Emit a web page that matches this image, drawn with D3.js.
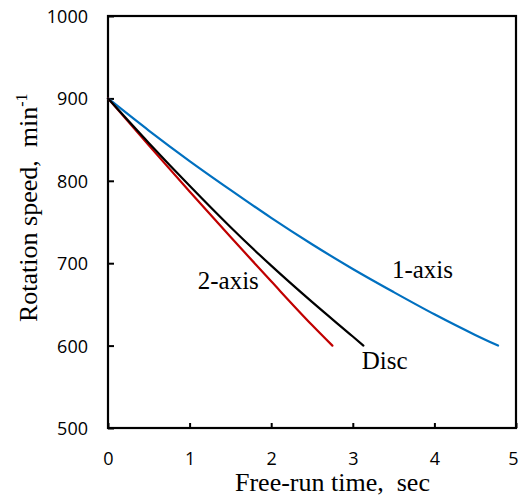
<!DOCTYPE html>
<html>
<head>
<meta charset="utf-8">
<script src="https://cdn.jsdelivr.net/npm/d3@7"></script>
<style>
    body { margin: 0; background: #fff; }
    .tick text { font-family: 'Open Sans', sans-serif; font-size: 18px; fill: #000; }
    .title, .note { font-family: 'Liberation Serif', 'Times New Roman', serif; fill: #000; white-space: pre; }
</style>
</head>
<body>
<div id="chart"></div>
<script>
// values
const xTicks = [0, 1, 2, 3, 4, 5];
const yTicks = [500, 600, 700, 800, 900, 1000];

const timeOneAxis = [0, 0.5, 1, 1.5, 2, 2.5, 3, 3.5, 4, 4.5, 4.78];
const speedOneAxis = [900, 861, 824, 789, 755, 723, 693, 665, 638, 613, 600];

const timeTwoAxis = [0, 0.5, 1, 1.5, 2, 2.5, 2.75];
const speedTwoAxis = [900, 843, 787, 732, 678, 625, 600];

const timeDisc = [0, 0.5, 1, 1.5, 2, 2.5, 3, 3.13];
const speedDisc = [900, 846, 794, 744, 697, 653, 611, 600];

const seriesNames = ['1-axis', '2-axis', 'Disc'];
const seriesColors = ['#0070c0', '#c00000', '#000000'];
// label anchors in data units (left edge, baseline)
const labelTimes = [3.48, 1.10, 3.11];
const labelSpeeds = [682, 669, 572];

const series = [
    { name: seriesNames[0], color: seriesColors[0], points: timeOneAxis.map((t, i) => [t, speedOneAxis[i]]) },
    { name: seriesNames[1], color: seriesColors[1], points: timeTwoAxis.map((t, i) => [t, speedTwoAxis[i]]) },
    { name: seriesNames[2], color: seriesColors[2], points: timeDisc.map((t, i) => [t, speedDisc[i]]) }
];

const margin = { top: 16, right: 3, bottom: 69, left: 108 };
const width = 519 - margin.left - margin.right;
const height = 497 - margin.top - margin.bottom;

const svg = d3.select('#chart').append('svg')
    .attr('width', 519)
    .attr('height', 497);

const g = svg.append('g')
    .attr('transform', `translate(${margin.left},${margin.top})`);

const x = d3.scaleLinear().domain([0, 5]).range([0, width]);
const y = d3.scaleLinear().domain([500, 1000]).range([height, 0]);

// axes with inward ticks
const xAxis = g.append('g')
    .attr('transform', `translate(0,${height})`)
    .call(d3.axisBottom(x).tickValues(xTicks).tickSize(-5).tickPadding(24).tickFormat(d3.format('d')));

const yAxis = g.append('g')
    .call(d3.axisLeft(y).tickValues(yTicks).tickSize(-6).tickPadding(20).tickFormat(d3.format('d')));

[xAxis, yAxis].forEach(a => {
    a.select('.domain').remove();
    a.selectAll('.tick line').attr('stroke', '#000').attr('stroke-width', 2);
});
yAxis.selectAll('.tick text').attr('dy', '0.36em');
// last x label sits against the right edge of the page
xAxis.selectAll('.tick text').filter(d => d === 5).attr('dx', -3);

// plot frame
g.append('rect')
    .attr('width', width)
    .attr('height', height)
    .attr('fill', 'none')
    .attr('stroke', '#000')
    .attr('stroke-width', 2.2);

const line = d3.line()
    .x(d => x(d[0]))
    .y(d => y(d[1]))
    .curve(d3.curveMonotoneX);

g.selectAll('.series')
    .data(series)
    .enter()
    .append('path')
    .attr('class', 'series')
    .attr('d', d => line(d.points))
    .attr('fill', 'none')
    .attr('stroke', d => d.color)
    .attr('stroke-width', 2.2)
    .attr('stroke-linecap', 'round');

g.selectAll('.note')
    .data(series)
    .enter()
    .append('text')
    .attr('class', 'note')
    .attr('x', (d, i) => x(labelTimes[i]))
    .attr('y', (d, i) => y(labelSpeeds[i]))
    .attr('font-size', 25)
    .text(d => d.name);

// axis titles
svg.append('text')
    .attr('class', 'title')
    .attr('x', 235)
    .attr('y', 491)
    .attr('font-size', 26)
    .text('Free-run time,  sec');

const yTitle = svg.append('text')
    .attr('class', 'title')
    .attr('transform', 'translate(37,322) rotate(-90)')
    .attr('font-size', 26);
yTitle.append('tspan').text('Rotation speed,  min');
yTitle.append('tspan')
    .attr('font-size', 16)
    .attr('dy', -10)
    .text('-1');
</script>
</body>
</html>
